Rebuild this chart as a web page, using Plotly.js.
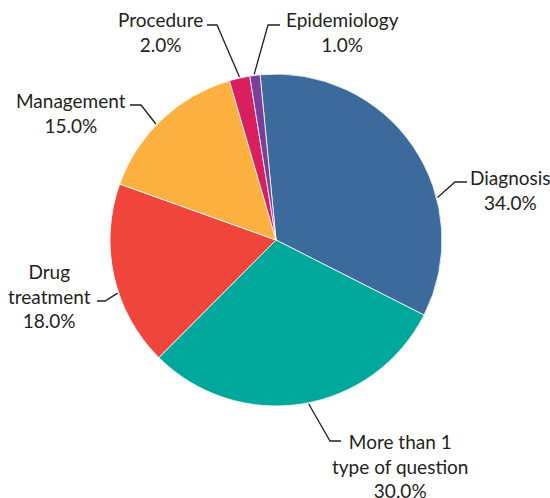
<!DOCTYPE html>
<html>
<head>
<meta charset="utf-8">
<script src="https://cdn.plot.ly/plotly-3.0.1.min.js"></script>
<style>html,body{margin:0;padding:0;background:#fff;}#chart{width:550px;height:498px;}</style>
</head>
<body>
<div id="chart"></div>
<script>
// ---- data ----
const categories = ['Diagnosis', 'More than 1 type of question', 'Drug treatment', 'Management', 'Procedure', 'Epidemiology'];
const labelLines = ['Diagnosis', 'More than 1<br>type of question', 'Drug<br>treatment', 'Management', 'Procedure', 'Epidemiology'];
const values = [34, 30, 18, 15, 2, 1];
const colors = ['#3d6a9c', '#00a89c', '#ef453a', '#fbb040', '#da1f5f', '#7b3f98'];

// ---- layout settings (pixels) ----
const W = 550, H = 498;
const domX = [110 / W, 442 / W];
const domY = [1 - 406 / H, 1 - 74 / H];
const rotation = -5.5;
// per-slice label layout: fraction along slice for leader anchor, elbow, line end, text pos, anchor
const labelLayout = [
  {frac: 0.66, elbow: [455, 182], end: [467, 182], tx: 468, ty: 189.5, xa: 'left'},
  {frac: 0.48, elbow: [330, 441], end: [341, 441], tx: 400, ty: 466, xa: 'center'},
  {frac: 0.41, elbow: [105, 301], end: [97, 301], tx: 93, ty: 296, xa: 'right'},
  {frac: 0.45, elbow: [141, 105], end: [130, 105], tx: 128, ty: 113.5, xa: 'right'},
  {frac: 0.51, elbow: [217, 25], end: [207, 25], tx: 205, ty: 32, xa: 'right'},
  {frac: 0.44, elbow: [268, 25], end: [280, 25], tx: 284, ty: 32, xa: 'left'}
];

const total = values.reduce((a, b) => a + b, 0);
const cx = (domX[0] + domX[1]) / 2 * W;
const cy = (1 - (domY[0] + domY[1]) / 2) * H;
const R = Math.min((domX[1] - domX[0]) * W, (domY[1] - domY[0]) * H) / 2;
const px = x => x / W;
const py = y => 1 - y / H;

const shapes = [];
const annotations = [];
let acc = 0;
values.forEach((v, i) => {
  const L = labelLayout[i];
  const a0 = rotation + acc / total * 360;
  const a1 = rotation + (acc + v) / total * 360;
  acc += v;
  const ang = (a0 + (a1 - a0) * L.frac) * Math.PI / 180;
  const ax = cx + (R + 1) * Math.sin(ang);
  const ay = cy - (R + 1) * Math.cos(ang);
  shapes.push({
    type: 'path', xref: 'paper', yref: 'paper',
    path: `M ${px(ax)} ${py(ay)} L ${px(L.elbow[0])} ${py(L.elbow[1])} L ${px(L.end[0])} ${py(L.end[1])}`,
    line: {color: '#231f20', width: 1.3}
  });
  annotations.push({
    xref: 'paper', yref: 'paper', x: px(L.tx), y: py(L.ty),
    xanchor: L.xa, yanchor: 'middle', align: 'center', showarrow: false,
    text: labelLines[i] + '<br>' + (v / total * 100).toFixed(1) + '%',
    font: {family: 'Lato, sans-serif', size: 19, color: '#231f20'}
  });
});

const trace = {
  type: 'pie',
  labels: categories,
  values: values,
  sort: false,
  direction: 'clockwise',
  rotation: rotation,
  marker: {colors: colors, line: {color: '#ffffff', width: 0.8}},
  textinfo: 'none',
  textposition: 'none',
  hoverinfo: 'skip',
  domain: {x: domX, y: domY},
  showlegend: false
};

Plotly.newPlot('chart', [trace], {
  width: W, height: H,
  margin: {l: 0, r: 0, t: 0, b: 0},
  paper_bgcolor: '#ffffff',
  showlegend: false,
  shapes: shapes,
  annotations: annotations
}, {staticPlot: true});
</script>
</body>
</html>
